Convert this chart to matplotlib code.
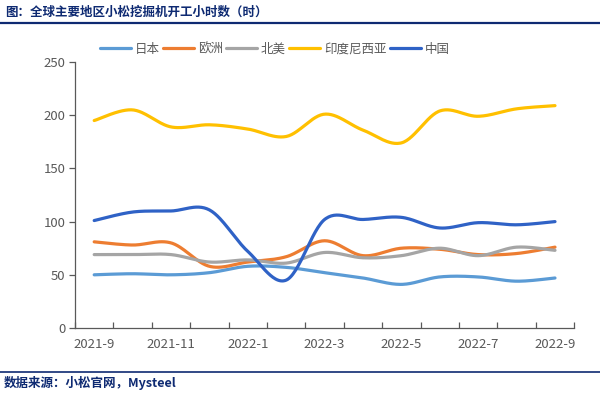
import matplotlib
matplotlib.use("Agg")
import matplotlib.pyplot as plt
import numpy as np

plt.rcParams['font.family'] = ['Noto Sans CJK SC', 'DejaVu Sans']

# data
months = ["2021-9", "2021-10", "2021-11", "2021-12", "2022-1", "2022-2", "2022-3",
          "2022-4", "2022-5", "2022-6", "2022-7", "2022-8", "2022-9"]
japan = [50, 51, 50, 52, 58, 57, 52, 47, 41, 48, 48, 44, 47]
europe = [81, 78, 80, 58, 62, 67, 82, 68, 75, 74, 69, 70, 76]
north_america = [69, 69, 69, 62, 64, 61, 71, 66, 68, 75, 68, 76, 73]
indonesia = [195, 205, 189, 191, 187, 180, 201, 186, 174, 204, 199, 206, 209]
china = [101, 109, 110, 111, 72, 45, 102, 102, 104, 94, 99, 97, 100]

names = ["日本", "欧洲", "北美", "印度尼西亚", "中国"]
colors = ["#5B9BD5", "#ED7D31", "#A5A5A5", "#FFC000", "#2F62C6"]


# excel style smooth line (bezier through the points)
def smooth(y, n=30):
    x = np.arange(len(y), dtype=float)
    y = np.asarray(y, dtype=float)
    px = np.concatenate([[x[0]], x, [x[-1]]])
    py = np.concatenate([[y[0]], y, [y[-1]]])
    xs, ys = [], []
    t = np.linspace(0, 1, n)
    for i in range(1, len(x)):
        p0 = np.array([px[i], py[i]])
        p3 = np.array([px[i + 1], py[i + 1]])
        c1 = p0 + (np.array([px[i + 1], py[i + 1]]) - np.array([px[i - 1], py[i - 1]])) / 6
        c2 = p3 - (np.array([px[i + 2], py[i + 2]]) - np.array([px[i], py[i]])) / 6
        b = ((1 - t) ** 3)[:, None] * p0 + (3 * (1 - t) ** 2 * t)[:, None] * c1 \
            + (3 * (1 - t) * t ** 2)[:, None] * c2 + (t ** 3)[:, None] * p3
        xs.append(b[:, 0])
        ys.append(b[:, 1])
    return np.concatenate(xs), np.concatenate(ys)


fig = plt.figure(figsize=(6, 3.96), dpi=100)
ax = fig.add_axes([0.125, 0.1717, 0.832, 0.6717])

for vals, name, c in zip([japan, europe, north_america, indonesia, china], names, colors):
    sx, sy = smooth(vals)
    ax.plot(sx, sy, color=c, lw=2.3, label=name, solid_capstyle='round')

ax.set_xlim(-0.5, len(months) - 0.5)
ax.set_ylim(0, 250)
ax.set_yticks(range(0, 251, 50))
ax.set_xticks(range(0, len(months), 2))
ax.set_xticklabels(months[::2])
ax.set_xticks(np.arange(-0.5, len(months), 1), minor=True)
ax.tick_params(axis='x', which='major', length=0, pad=7, labelsize=9.5, labelcolor='#595959')
ax.tick_params(axis='x', which='minor', direction='in', length=4, color='#595959', width=0.9)
ax.tick_params(axis='y', direction='out', length=4, color='#595959', width=0.9,
               labelsize=9.5, labelcolor='#595959', pad=3)
for s in ['top', 'right']:
    ax.spines[s].set_visible(False)
for s in ['left', 'bottom']:
    ax.spines[s].set_color('#595959')
    ax.spines[s].set_linewidth(0.9)

fig.legend(loc='center', bbox_to_anchor=(0.458, 0.876), ncol=5, frameon=False,
           fontsize=9, handlelength=2.5, handletextpad=0.3, columnspacing=0.25,
           labelcolor='#595959')

navy = '#0E2A72'
fig.text(0.008, 1 - 12 / 396, "图：全球主要地区小松挖掘机开工小时数（时）", fontsize=9,
         fontweight='bold', color=navy, va='center', ha='left')
fig.add_artist(plt.Line2D([0, 1], [1 - 22.5 / 396] * 2, color=navy, lw=1.6))
fig.add_artist(plt.Line2D([0, 1], [1 - 371.5 / 396] * 2, color=navy, lw=1.2))
fig.text(0.006, 1 - 383 / 396, "数据来源：小松官网，Mysteel", fontsize=9,
         fontweight='bold', color=navy, va='center', ha='left')

fig.savefig("out.png", dpi=100)
